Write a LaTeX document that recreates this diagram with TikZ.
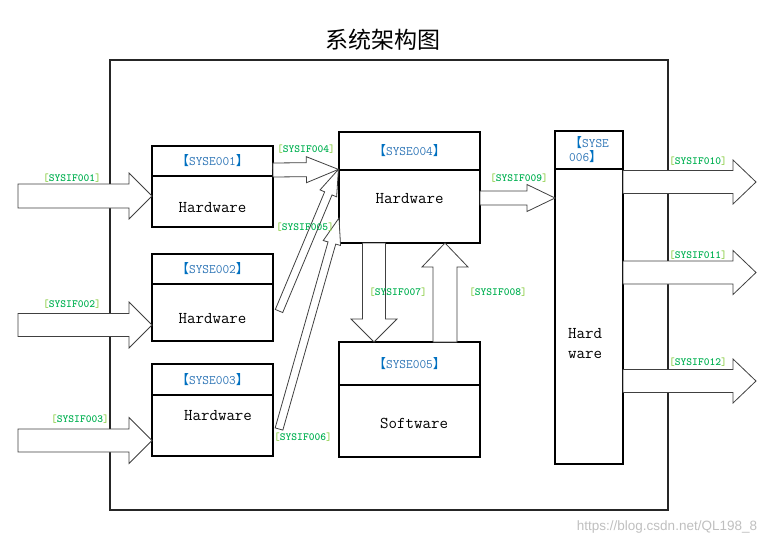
\documentclass[tikz,border=0pt]{standalone}
\usepackage{fontspec}
\usepackage{tikz}
\usetikzlibrary{calc}
\newfontfamily\cjk{Noto Sans CJK SC}
\newfontfamily\wmfont{Liberation Sans}
\definecolor{sgreen}{HTML}{00B050}
\definecolor{lgreen}{HTML}{92D050}
\definecolor{dblue}{HTML}{0070C0}
\definecolor{sblue}{HTML}{2E75B6}
\newcommand{\sysif}[1]{{\color{lgreen}[}SYSIF#1{\color{lgreen}]}}
\newcommand{\syse}[1]{{\cjk\color{dblue}【}SYSE#1{\cjk\color{dblue}】}}
\newcommand{\fatarrow}[5]{%
  \coordinate (hb) at ($(#2)!#5!(#1)$);
  \draw[fat] ($(#1)!#3!90:(#2)$) -- ($(hb)!#3!90:(#2)$) -- ($(hb)!#4!90:(#2)$) -- (#2)
    -- ($(hb)!#4!-90:(#2)$) -- ($(hb)!#3!-90:(#2)$) -- ($(#1)!#3!-90:(#2)$) -- cycle;}

\begin{document}
\begin{tikzpicture}[x=1pt, y=-1pt,
    box/.style={draw, line width=1.2pt, inner sep=0pt},
    hw/.style={font=\fontsize{16.5}{20}\selectfont\ttfamily},
    hd/.style={font=\fontsize{13}{14}\selectfont\ttfamily, text=sblue},
    lb/.style={font=\fontsize{11}{13}\selectfont\ttfamily\bfseries, text=sgreen},
    fat/.style={draw=black!75, fill=white, line width=0.8pt, line join=miter}]
            \useasboundingbox (0,0) rectangle (783,546);
            \node (T) at (383,40) {\fontsize{23}{25}\selectfont\cjk 系统架构图};
            \node[draw=black!85, line width=1.1pt, minimum width=558, minimum height=450] (F) at (389,285) {};

            \node[box, hd, minimum width=121, minimum height=30] (H1) at (212.5,161) {\syse{001}};
            \node[box, minimum width=121, minimum height=51] (B1) at (212.5,201.5) {};
            \node[box, hd, minimum width=121, minimum height=30] (H2) at (212.5,269) {\syse{002}};
            \node[box, minimum width=121, minimum height=57] (B2) at (212.5,312.5) {};
            \node[box, hd, minimum width=121, minimum height=31] (H3) at (212.5,379.5) {\syse{003}};
            \node[box, minimum width=121, minimum height=61] (B3) at (212.5,425.5) {};
            \node[box, hd, minimum width=141, minimum height=38] (H4) at (409.5,151) {\syse{004}};
            \node[box, minimum width=141, minimum height=73] (B4) at (409.5,206.5) {};
            \node[box, hd, minimum width=141, minimum height=43] (H5) at (409.5,363.5) {\syse{005}};
            \node[box, minimum width=141, minimum height=72] (B5) at (409.5,421) {};
            \node[box, hd, minimum width=68, minimum height=38, align=left] (H6) at (589,150) {{\cjk\color{dblue}【}SYSE\\006{\cjk\color{dblue}】}};
            \node[box, minimum width=68, minimum height=295] (B6) at (589,316.5) {};

            \node[hw] (W1) at (212.5,208) {Hardware};
            \node[hw] (W2) at (212.5,319) {Hardware};
            \node[hw] (W3) at (218,416) {Hardware};
            \node[hw] (W4) at (409.5,199) {Hardware};
            \node[hw] (W5) at (414,423) {Software};
            \node[hw, align=left] (W6) at (585,344) {Hard\\ware};

            \coordinate (i1) at (18,196);
            \coordinate (i2) at (18,325);
            \coordinate (i3) at (18,440.5);
            \coordinate (e1) at (152,196);
            \coordinate (e2) at (152,325);
            \coordinate (e3) at (152,440.5);
            \coordinate (a4) at (273,170);
            \coordinate (a5) at (279,311);
            \coordinate (a6) at (279,429);
            \coordinate (t6) at (339,218);
            \coordinate (a9) at (480,198);
            \coordinate (t9) at (555,198);
            \coordinate (a7) at (374,243);
            \coordinate (t7) at (374,342);
            \coordinate (a8) at (445,342);
            \coordinate (t8) at (445,243);
            \coordinate (o1) at (623,182);
            \coordinate (o2) at (623,272.5);
            \coordinate (o3) at (623,381);
            \coordinate (p1) at (756,182);
            \coordinate (p2) at (756,272.5);
            \coordinate (p3) at (756,381);

            \fatarrow{i1}{e1}{12pt}{23pt}{23pt}
            \fatarrow{i2}{e2}{11.5pt}{23pt}{23pt}
            \fatarrow{i3}{e3}{11.5pt}{23pt}{23pt}
            \fatarrow{a4}{B4.north west}{7pt}{13pt}{32pt}
            \fatarrow{a5}{B4.north west}{4pt}{9pt}{26pt}
            \fatarrow{a6}{t6}{4pt}{9pt}{26pt}
            \fatarrow{a9}{t9}{7pt}{13.5pt}{28pt}
            \fatarrow{a7}{t7}{11.5pt}{23pt}{23pt}
            \fatarrow{a8}{t8}{12pt}{23pt}{24pt}
            \fatarrow{o1}{p1}{11.5pt}{22pt}{23pt}
            \fatarrow{o2}{p2}{11.5pt}{22pt}{23pt}
            \fatarrow{o3}{p3}{11.5pt}{22pt}{23pt}

            \node[lb] (L1) at (72,178) {\sysif{001}};
            \node[lb] (L2) at (72,304) {\sysif{002}};
            \node[lb] (L3) at (80,419) {\sysif{003}};
            \node[lb] (L4) at (306,149) {\sysif{004}};
            \node[lb] (L5) at (305,227) {\sysif{005}};
            \node[lb] (L6) at (303,437) {\sysif{006}};
            \node[lb] (L7) at (398,292) {\sysif{007}};
            \node[lb] (L8) at (498,292) {\sysif{008}};
            \node[lb] (L9) at (519,178) {\sysif{009}};
            \node[lb] (L10) at (698,161) {\sysif{010}};
            \node[lb] (L11) at (698,255) {\sysif{011}};
            \node[lb] (L12) at (698,362) {\sysif{012}};

            \node[text=black!25] (U) at (667,527) {\fontsize{13.5}{15}\selectfont\wmfont https://blog.csdn.net/QL198\_8};
            \end{tikzpicture}
\end{document}
